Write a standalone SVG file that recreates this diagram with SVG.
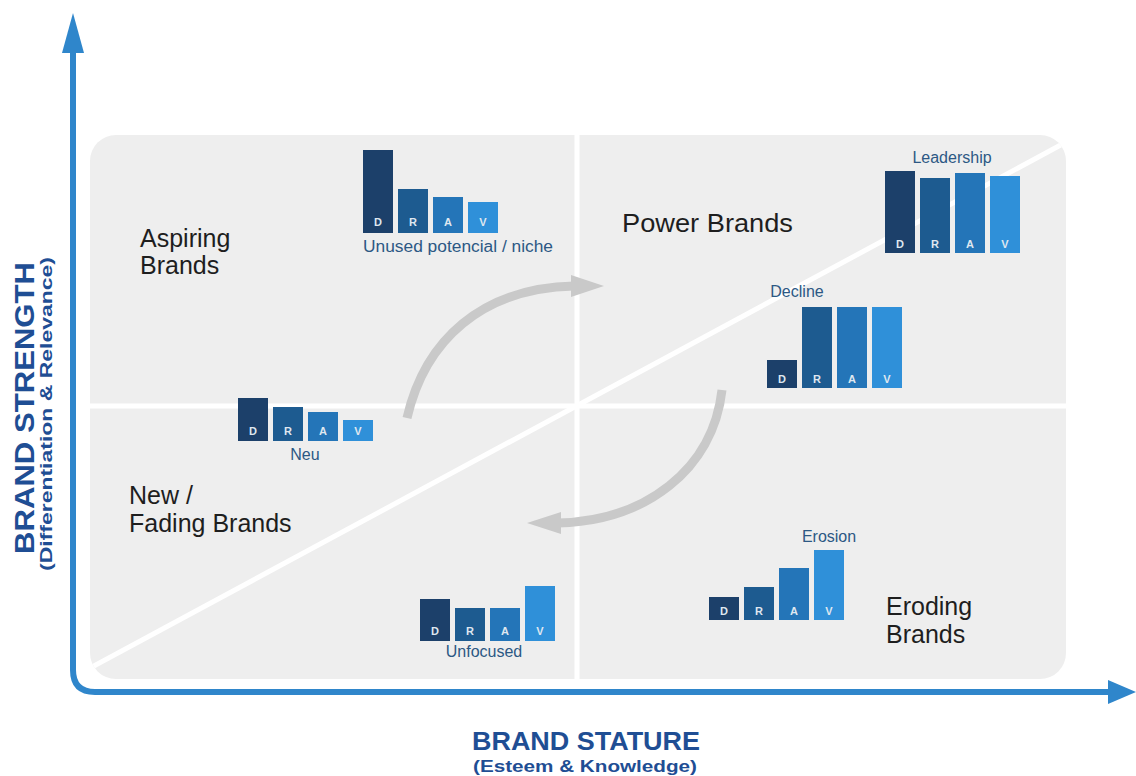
<svg xmlns="http://www.w3.org/2000/svg" width="1136" height="776" viewBox="0 0 1136 776">
  <style>
    .quad { font-family: "Liberation Sans", Arial, sans-serif; font-size: 25px; fill: #1e1e1e; }
    .cap { font-family: "Liberation Sans", Arial, sans-serif; font-size: 16px; fill: #2c5884; text-anchor: middle; }
    .ltr { font-family: "Liberation Sans", Arial, sans-serif; font-size: 11px; font-weight: bold; fill: #dfe7f0; text-anchor: middle; }
    .d { fill: #1c406a; }
    .r { fill: #1d5b90; }
    .a { fill: #2475b8; }
    .v { fill: #2f90d9; }
    .axis { fill: none; stroke: #2f86cb; stroke-width: 6; }
    .axhead { fill: #2f86cb; }
    .title { font-family: "Liberation Sans", Arial, sans-serif; font-weight: bold; fill: #1f4e94; text-anchor: middle; }
    .flow { fill: none; stroke: #c9c9c9; stroke-width: 9; }
    .divider { stroke: #ffffff; stroke-width: 5; }
  </style>
  <defs>
    <clipPath id="panelClip">
      <rect x="90" y="135" width="976" height="544" rx="26" ry="26"/>
    </clipPath>
  </defs>

  <rect width="1136" height="776" fill="#ffffff"/>

  <!-- quadrant panel -->
  <g id="panel">
    <rect x="90" y="135" width="976" height="544" rx="26" ry="26" fill="#eeeeee"/>
    <g clip-path="url(#panelClip)">
      <line class="divider" x1="577" y1="130" x2="577" y2="685"/>
      <line class="divider" x1="85" y1="406" x2="1070" y2="406"/>
      <line class="divider" stroke-width="4" x1="90" y1="668" x2="1070" y2="140"/>
    </g>
  </g>

  <!-- axes -->
  <g id="axes">
    <path class="axis" d="M73,48 V670 Q73,692 95,692 H1112"/>
    <polygon class="axhead" points="73,13 62,53 84,53"/>
    <polygon class="axhead" points="1136,692 1108,680 1108,704"/>
  </g>

  <!-- axis titles -->
  <g id="x-title">
    <text class="title" x="586" y="750" font-size="25" textLength="228" lengthAdjust="spacingAndGlyphs">BRAND STATURE</text>
    <text class="title" x="585" y="772" font-size="16" textLength="224" lengthAdjust="spacingAndGlyphs">(Esteem &amp; Knowledge)</text>
  </g>
  <g id="y-title">
    <text class="title" transform="translate(34,408) rotate(-90)" font-size="28" textLength="292" lengthAdjust="spacingAndGlyphs">BRAND STRENGTH</text>
    <text class="title" transform="translate(52,414) rotate(-90)" font-size="16" textLength="314" lengthAdjust="spacingAndGlyphs">(Differentiation &amp; Relevance)</text>
  </g>

  <!-- quadrant labels -->
  <g id="aspiring-brands">
    <text class="quad" x="140" y="247">Aspiring</text>
    <text class="quad" x="140" y="274">Brands</text>
  </g>
  <g id="power-brands">
    <text class="quad" x="622" y="232" textLength="171" lengthAdjust="spacingAndGlyphs">Power Brands</text>
  </g>
  <g id="fading-brands">
    <text class="quad" x="129" y="504">New /</text>
    <text class="quad" x="129" y="532">Fading Brands</text>
  </g>
  <g id="eroding-brands">
    <text class="quad" x="886" y="615">Eroding</text>
    <text class="quad" x="886" y="643">Brands</text>
  </g>

  <!-- DRAV profiles -->
  <g id="niche">
    <rect class="d" x="363" y="150" width="30" height="83"/>
    <rect class="r" x="398" y="189" width="30" height="44"/>
    <rect class="a" x="433" y="197" width="30" height="36"/>
    <rect class="v" x="468" y="202" width="30" height="31"/>
    <text class="ltr" x="378" y="226">D</text>
    <text class="ltr" x="413" y="226">R</text>
    <text class="ltr" x="448" y="226">A</text>
    <text class="ltr" x="483" y="226">V</text>
    <text class="cap" x="458" y="252" textLength="190" lengthAdjust="spacingAndGlyphs">Unused potencial / niche</text>
  </g>

  <g id="leadership">
    <rect class="d" x="885" y="171" width="30" height="82"/>
    <rect class="r" x="920" y="178" width="30" height="75"/>
    <rect class="a" x="955" y="173" width="30" height="80"/>
    <rect class="v" x="990" y="176" width="30" height="77"/>
    <text class="ltr" x="900" y="248">D</text>
    <text class="ltr" x="935" y="248">R</text>
    <text class="ltr" x="970" y="248">A</text>
    <text class="ltr" x="1005" y="248">V</text>
    <text class="cap" x="952" y="163">Leadership</text>
  </g>

  <g id="decline">
    <rect class="d" x="767" y="360" width="30" height="28"/>
    <rect class="r" x="802" y="307" width="30" height="81"/>
    <rect class="a" x="837" y="307" width="30" height="81"/>
    <rect class="v" x="872" y="307" width="30" height="81"/>
    <text class="ltr" x="782" y="383">D</text>
    <text class="ltr" x="817" y="383">R</text>
    <text class="ltr" x="852" y="383">A</text>
    <text class="ltr" x="887" y="383">V</text>
    <text class="cap" x="797" y="297">Decline</text>
  </g>

  <g id="neu">
    <rect class="d" x="238" y="398" width="30" height="43"/>
    <rect class="r" x="273" y="407" width="30" height="34"/>
    <rect class="a" x="308" y="412" width="30" height="29"/>
    <rect class="v" x="343" y="420" width="30" height="21"/>
    <text class="ltr" x="253" y="435">D</text>
    <text class="ltr" x="288" y="435">R</text>
    <text class="ltr" x="323" y="435">A</text>
    <text class="ltr" x="358" y="435">V</text>
    <text class="cap" x="305" y="460" font-size="15">Neu</text>
  </g>

  <g id="unfocused">
    <rect class="d" x="420" y="599" width="30" height="42"/>
    <rect class="r" x="455" y="608" width="30" height="33"/>
    <rect class="a" x="490" y="608" width="30" height="33"/>
    <rect class="v" x="525" y="586" width="30" height="55"/>
    <text class="ltr" x="435" y="635">D</text>
    <text class="ltr" x="470" y="635">R</text>
    <text class="ltr" x="505" y="635">A</text>
    <text class="ltr" x="540" y="635">V</text>
    <text class="cap" x="484" y="657">Unfocused</text>
  </g>

  <g id="erosion">
    <rect class="d" x="709" y="597" width="30" height="23"/>
    <rect class="r" x="744" y="587" width="30" height="33"/>
    <rect class="a" x="779" y="568" width="30" height="52"/>
    <rect class="v" x="814" y="550" width="30" height="70"/>
    <text class="ltr" x="724" y="615">D</text>
    <text class="ltr" x="759" y="615">R</text>
    <text class="ltr" x="794" y="615">A</text>
    <text class="ltr" x="829" y="615">V</text>
    <text class="cap" x="829" y="542">Erosion</text>
  </g>

  <!-- movement between quadrants -->
  <g id="connectors">
    <path class="flow" d="M407,418 C425,340 482,288 574,286"/>
    <polygon fill="#c9c9c9" points="604,286 571,275 571,297"/>
    <path class="flow" d="M722,390 C713,470 645,521 558,523"/>
    <polygon fill="#c9c9c9" points="527,523 561,512 561,534"/>
  </g>
</svg>
